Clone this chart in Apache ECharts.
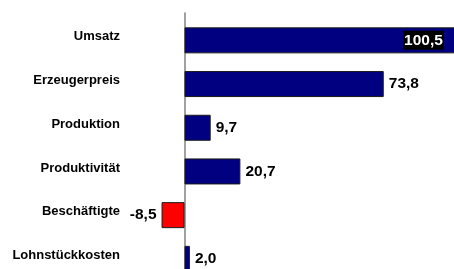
<!DOCTYPE html>
<html>
<head>
<meta charset="utf-8">
<script src="https://cdn.jsdelivr.net/npm/echarts@6/dist/echarts.min.js"></script>
<style>
html,body{margin:0;padding:0;background:#fff;}
#chart{width:454px;height:269px;}
</style>
</head>
<body>
<div id="chart"></div>
<script>
var categories = ['Umsatz', 'Erzeugerpreis', 'Produktion', 'Produktivität', 'Beschäftigte', 'Lohnstückkosten'];
var values = [100.5, 73.8, 9.7, 20.7, -8.5, 2.0];
var valueLabels = ['100,5', '73,8', '9,7', '20,7', '-8,5', '2,0'];
var insideLabelCategory = 'Umsatz';

var FONT = '"Liberation Sans", Arial, sans-serif';
var xMin = -20, xMax = 110;

var data = values.map(function (v, i) {
  var item = {
    value: v,
    itemStyle: { color: v < 0 ? '#ff0000' : '#000080' },
    label: { position: v < 0 ? 'left' : 'right' }
  };
  if (categories[i] === insideLabelCategory) {
    item.label = {
      position: 'insideRight',
      distance: 12,
      color: '#fff',
      backgroundColor: '#000',
      padding: [2, 1, 1, 1]
    };
  }
  return item;
});

var chart = echarts.init(document.getElementById('chart'), null, { renderer: 'canvas' });
chart.setOption({
  animation: false,
  backgroundColor: '#fff',
  grid: [
    { left: 130.5, right: -27.5, top: 18.5, bottom: -11.7, containLabel: false, outerBoundsMode: 'none' },
    { left: 130.5, right: -27.5, top: 13, bottom: -6, containLabel: false, outerBoundsMode: 'none' }
  ],
  xAxis: [
    { gridIndex: 0, type: 'value', min: xMin, max: xMax, show: false },
    { gridIndex: 1, type: 'value', min: xMin, max: xMax, show: false }
  ],
  yAxis: [
    {
      gridIndex: 0,
      type: 'category',
      data: categories,
      inverse: true,
      axisLine: { show: false },
      axisTick: { show: false },
      splitLine: { show: false },
      axisLabel: {
        margin: 10.5,
        color: '#000',
        fontFamily: FONT,
        fontWeight: 'bold',
        fontSize: 13,
        lineHeight: 7,
        verticalAlign: 'bottom'
      }
    },
    {
      gridIndex: 1,
      type: 'category',
      data: [''],
      axisLine: { show: true, onZero: true, lineStyle: { color: '#8a8a8a', width: 1.6 } },
      axisTick: { show: false },
      axisLabel: { show: false },
      splitLine: { show: false }
    }
  ],
  series: [{
    type: 'bar',
    xAxisIndex: 0,
    yAxisIndex: 0,
    data: data,
    barWidth: 26,
    itemStyle: { borderColor: '#1a1a1a', borderWidth: 1 },
    label: {
      show: true,
      distance: 5,
      color: '#000',
      fontFamily: FONT,
      fontWeight: 'bold',
      fontSize: 15.5,
      formatter: function (p) { return valueLabels[p.dataIndex]; }
    }
  }]
});
</script>
</body>
</html>
